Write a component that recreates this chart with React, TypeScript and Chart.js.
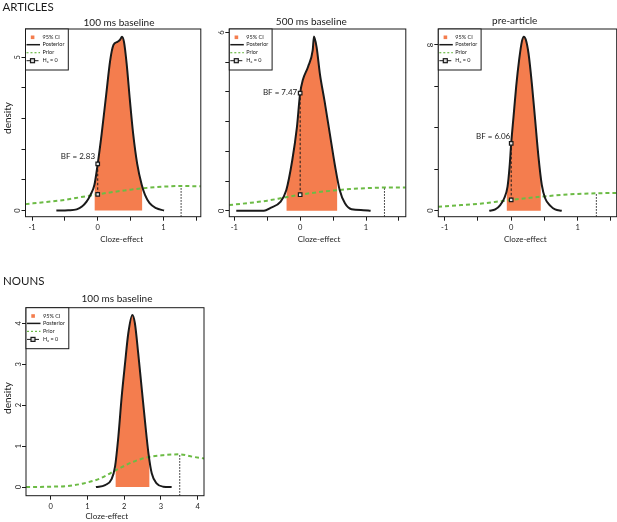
import { useEffect, useRef } from "react";
import { Chart, registerables } from "chart.js";

Chart.register(...registerables);

const FONT = "Lato, 'Open Sans', sans-serif";
const ORANGE = "#f47d4e";
const GREEN = "#6cbb45";
const INK = "#1a1a1a";

// shared ticks
const articleXTicks = [-1, -0.5, 0, 0.5, 1, 1.5];
const nounXTicks = [0, 1, 2, 3, 4];

// ARTICLES, 100 ms baseline
const art100PostX = [-0.63, -0.45, -0.32, -0.24, -0.17, -0.11, -0.05, 0, 0.06, 0.13, 0.19, 0.24, 0.3, 0.34, 0.37, 0.4, 0.44, 0.49, 0.54, 0.6, 0.67, 0.72, 0.79, 0.89, 1.01];
const art100PostY = [0, 0.01, 0.04, 0.13, 0.29, 0.51, 0.84, 1.52, 2.5, 3.8, 4.9, 5.4, 5.5, 5.57, 5.67, 5.5, 4.8, 3.6, 2.5, 1.54, 0.84, 0.51, 0.24, 0.08, 0];
const art100PriorX = [-1.1, -0.75, -0.5, -0.25, 0, 0.25, 0.5, 0.75, 1, 1.27, 1.57];
const art100PriorY = [0.21, 0.29, 0.35, 0.44, 0.53, 0.61, 0.68, 0.74, 0.78, 0.8, 0.79];
const art100Ci = [-0.05, 0.68];
const art100CiEdgeY = [0.84, 0.78];
const art100H0 = [0.53, 1.52];
const art100Mode = [1.27, 0.8];
const art100YTicks = [0, 1, 2, 3, 4, 5];
const art100YLabels = [0, 5];

// ARTICLES, 500 ms baseline
const art500PostX = [-0.97, -0.55, -0.45, -0.3, -0.21, -0.12, -0.05, 0, 0.04, 0.12, 0.19, 0.21, 0.25, 0.3, 0.37, 0.45, 0.53, 0.6, 0.68, 0.78, 0.96, 1.07];
const art500PostY = [0, 0, 0.1, 0.3, 0.7, 1.7, 2.8, 3.96, 4.4, 4.85, 5.4, 5.87, 5.5, 4.6, 3.7, 2.6, 1.5, 0.7, 0.25, 0.05, 0.02, 0];
const art500PriorX = [-1.08, -0.75, -0.5, -0.25, 0, 0.25, 0.5, 0.75, 1, 1.28, 1.6];
const art500PriorY = [0.19, 0.27, 0.34, 0.44, 0.54, 0.62, 0.68, 0.73, 0.76, 0.78, 0.78];
const art500Ci = [-0.21, 0.565];
const art500CiEdgeY = [0.7, 1.1];
const art500H0 = [0.54, 3.96];
const art500Mode = [1.28, 0.78];
const art500YTicks = [0, 1, 2, 3, 4, 5, 6];
const art500YLabels = [0, 6];

// ARTICLES, pre-article
const preArtPostX = [-0.33, -0.24, -0.165, -0.105, -0.055, -0.025, 0, 0.035, 0.075, 0.12, 0.16, 0.19, 0.22, 0.26, 0.31, 0.36, 0.41, 0.46, 0.51, 0.59, 0.66, 0.76];
const preArtPostY = [0, 0.06, 0.27, 0.6, 1.16, 2.1, 3.25, 4.54, 6.0, 7.3, 8.16, 8.4, 8.25, 7.6, 6.15, 4.38, 2.6, 1.24, 0.6, 0.23, 0.06, 0];
const preArtPriorX = [-1.1, -0.75, -0.5, -0.25, 0, 0.25, 0.5, 0.75, 1, 1.28, 1.59];
const preArtPriorY = [0.19, 0.27, 0.33, 0.42, 0.52, 0.61, 0.69, 0.76, 0.81, 0.84, 0.86];
const preArtCi = [-0.07, 0.446];
const preArtCiEdgeY = [0.9, 1.6];
const preArtH0 = [0.52, 3.25];
const preArtMode = [1.28, 0.84];
const preArtYTicks = [0, 2, 4, 6, 8];
const preArtYLabels = [0, 8];

// NOUNS, 100 ms baseline
const noun100PostX = [1.23, 1.48, 1.66, 1.75, 1.84, 1.93, 2.02, 2.11, 2.22, 2.29, 2.38, 2.48, 2.57, 2.66, 2.75, 2.88, 3.06, 3.29];
const noun100PostY = [0, 0.05, 0.2, 0.5, 1.23, 2.2, 3.0, 3.75, 4.2, 4.0, 3.27, 2.37, 1.56, 0.82, 0.33, 0.09, 0.01, 0];
const noun100PriorX = [-0.67, -0.02, 0.44, 0.89, 1.34, 1.79, 2.25, 2.7, 3.06, 3.51, 3.87, 4.17];
const noun100PriorY = [0, 0.01, 0.025, 0.09, 0.21, 0.42, 0.62, 0.74, 0.78, 0.8, 0.74, 0.7];
const noun100Ci = [1.76, 2.69];
const noun100CiEdgeY = [0.58, 0.66];
const noun100Mode = [3.51, 0.8];
const noun100YTicks = [0, 1, 2, 3, 4];
const noun100YLabels = [0, 1, 2, 3, 4];

type Panel = {
  title: string;
  titlePos: [number, number];
  xLabelPos: [number, number];
  yLabelPos?: [number, number];
  heading?: { text: string; x: number; y: number };
  canvas: [number, number, number, number];
  box: [number, number, number, number];
  xRange: [number, number];
  yRange: [number, number];
  xTicks: number[];
  yTicks: number[];
  yLabels: number[];
  postX: number[];
  postY: number[];
  priorX: number[];
  priorY: number[];
  ci: number[];
  ciEdgeY: number[];
  mode: number[];
  h0?: number[];
  bf?: string;
  bfOffset?: [number, number];
};

const panels: Panel[] = [
  {
    title: "100 ms baseline", titlePos: [119, 22.7], xLabelPos: [121.7, 239], yLabelPos: [7.5, 118],
    heading: { text: "ARTICLES", x: 2.5, y: 7 },
    canvas: [0, 0, 206, 250], box: [25.5, 29, 202, 216.7],
    xRange: [-1.1, 1.57], yRange: [-0.2, 5.92],
    xTicks: articleXTicks, yTicks: art100YTicks, yLabels: art100YLabels,
    postX: art100PostX, postY: art100PostY, priorX: art100PriorX, priorY: art100PriorY,
    ci: art100Ci, ciEdgeY: art100CiEdgeY, mode: art100Mode,
    h0: art100H0, bf: "2.83", bfOffset: [-2.7, -7.3],
  },
  {
    title: "500 ms baseline", titlePos: [311.3, 21.7], xLabelPos: [319, 239],
    canvas: [206, 0, 205, 250], box: [229.3, 29, 406.7, 216.7],
    xRange: [-1.076, 1.604], yRange: [-0.2, 6.12],
    xTicks: articleXTicks, yTicks: art500YTicks, yLabels: art500YLabels,
    postX: art500PostX, postY: art500PostY, priorX: art500PriorX, priorY: art500PriorY,
    ci: art500Ci, ciEdgeY: art500CiEdgeY, mode: art500Mode,
    h0: art500H0, bf: "7.47", bfOffset: [-3, -1],
  },
  {
    title: "pre-article", titlePos: [514.7, 21], xLabelPos: [525.3, 239],
    canvas: [411, 0, 215, 250], box: [438.3, 29, 616.7, 216.7],
    xRange: [-1.096, 1.586], yRange: [-0.29, 8.77],
    xTicks: articleXTicks, yTicks: preArtYTicks, yLabels: preArtYLabels,
    postX: preArtPostX, postY: preArtPostY, priorX: preArtPriorX, priorY: preArtPriorY,
    ci: preArtCi, ciEdgeY: preArtCiEdgeY, mode: preArtMode,
    h0: preArtH0, bf: "6.06", bfOffset: [-1, -7.4],
  },
  {
    title: "100 ms baseline", titlePos: [117, 298.3], xLabelPos: [106.8, 516.7], yLabelPos: [7.5, 398],
    heading: { text: "NOUNS", x: 3, y: 281 },
    canvas: [0, 262, 210, 260], box: [26, 307.7, 204, 495.7],
    xRange: [-0.672, 4.17], yRange: [-0.21, 4.38],
    xTicks: nounXTicks, yTicks: noun100YTicks, yLabels: noun100YLabels,
    postX: noun100PostX, postY: noun100PostY, priorX: noun100PriorX, priorY: noun100PriorY,
    ci: noun100Ci, ciEdgeY: noun100CiEdgeY, mode: noun100Mode,
  },
];

const pts = (xs: number[], ys: number[]) => xs.map((x, i) => ({ x, y: ys[i] }));

const decor = (p: Panel) => ({
  id: "decor",
  afterDatasetsDraw(chart: any) {
    const { ctx, chartArea: a, scales } = chart;
    const [ox, oy] = p.canvas;
    ctx.save();
    ctx.strokeStyle = INK;
    ctx.fillStyle = INK;
    ctx.lineWidth = 1;
    ctx.setLineDash([]);
    ctx.strokeRect(a.left, a.top, a.right - a.left, a.bottom - a.top);

    // rotated y tick labels, R style
    ctx.font = `7.5px ${FONT}`;
    ctx.textAlign = "center";
    ctx.textBaseline = "middle";
    for (const v of p.yLabels) {
      const y = scales.y.getPixelForValue(v);
      ctx.save();
      ctx.translate(a.left - 7.5, y);
      ctx.rotate(-Math.PI / 2);
      ctx.fillText(String(v), 0, 0);
      ctx.restore();
    }

    ctx.font = `10px ${FONT}`;
    ctx.fillText(p.title, p.titlePos[0] - ox, p.titlePos[1] - oy);
    ctx.font = `8px ${FONT}`;
    ctx.fillText("Cloze-effect", p.xLabelPos[0] - ox, p.xLabelPos[1] - oy);
    if (p.yLabelPos) {
      ctx.save();
      ctx.font = `10px ${FONT}`;
      ctx.translate(p.yLabelPos[0] - ox, p.yLabelPos[1] - oy);
      ctx.rotate(-Math.PI / 2);
      ctx.fillText("density", 0, 0);
      ctx.restore();
    }
    if (p.heading) {
      ctx.font = `11.5px ${FONT}`;
      ctx.textAlign = "left";
      ctx.fillText(p.heading.text, p.heading.x - ox, p.heading.y - oy);
      ctx.textAlign = "center";
    }

    if (p.bf && p.h0 && p.bfOffset) {
      const x = scales.x.getPixelForValue(0);
      const y = scales.y.getPixelForValue(p.h0[1]);
      ctx.font = `8px ${FONT}`;
      ctx.textAlign = "right";
      ctx.fillText(`BF = ${p.bf}`, x + p.bfOffset[0], y + p.bfOffset[1]);
    }

    // legend, top-left inside the box
    const lx = a.left, ly = a.top;
    ctx.fillStyle = "#fff";
    ctx.fillRect(lx, ly, 42.8, 41);
    ctx.strokeStyle = INK;
    ctx.lineWidth = 1;
    ctx.strokeRect(lx, ly, 42.8, 41);
    const rows = [8.3, 15.7, 23.7, 31.7].map((d) => ly + d);
    ctx.fillStyle = ORANGE;
    ctx.fillRect(lx + 5.3, rows[0] - 1.8, 3.6, 3.6);
    ctx.strokeStyle = INK;
    ctx.lineWidth = 1.5;
    ctx.beginPath();
    ctx.moveTo(lx + 1, rows[1]);
    ctx.lineTo(lx + 14.5, rows[1]);
    ctx.stroke();
    ctx.strokeStyle = GREEN;
    ctx.lineWidth = 1.2;
    ctx.setLineDash([2, 2]);
    ctx.beginPath();
    ctx.moveTo(lx + 1, rows[2]);
    ctx.lineTo(lx + 14.5, rows[2]);
    ctx.stroke();
    ctx.setLineDash([]);
    ctx.strokeStyle = INK;
    ctx.lineWidth = 1;
    ctx.beginPath();
    ctx.moveTo(lx + 1, rows[3]);
    ctx.lineTo(lx + 13, rows[3]);
    ctx.stroke();
    ctx.fillStyle = "#ddd";
    ctx.fillRect(lx + 5, rows[3] - 2, 4, 4);
    ctx.lineWidth = 1.2;
    ctx.strokeRect(lx + 5, rows[3] - 2, 4, 4);
    ctx.fillStyle = INK;
    ctx.font = `5.5px ${FONT}`;
    ctx.textAlign = "left";
    ["95% CI", "Posterior", "Prior", "H\u2080 = 0"].forEach((t, i) => ctx.fillText(t, lx + 17, rows[i]));
    ctx.restore();
  },
});

function PanelChart({ p }: { p: Panel }) {
  const canvasRef = useRef<HTMLCanvasElement>(null);
  const [cl, ct, cw, ch] = p.canvas;

  useEffect(() => {
    const canvas = canvasRef.current;
    if (!canvas) return;
    const [bl, bt, br, bb] = p.box;
    const wy = bl - cl;
    const pr = cl + cw - br;
    const pt = bt - ct;
    const hx = ct + ch - bb;

    const post = pts(p.postX, p.postY);
    const ciData = [
      { x: p.ci[0], y: p.ciEdgeY[0] },
      ...post.filter((d) => d.x > p.ci[0] && d.x < p.ci[1]),
      { x: p.ci[1], y: p.ciEdgeY[1] },
    ];

    const datasets: any[] = [
      {
        data: ciData, showLine: true, fill: "origin", backgroundColor: ORANGE,
        borderWidth: 0, pointRadius: 0, cubicInterpolationMode: "monotone", order: 5,
      },
      {
        data: pts(p.priorX, p.priorY), showLine: true, borderColor: GREEN, borderWidth: 2,
        borderDash: [4, 3], pointRadius: 0, cubicInterpolationMode: "monotone", order: 4,
      },
      {
        data: [{ x: p.mode[0], y: p.yRange[0] }, { x: p.mode[0], y: p.mode[1] }],
        showLine: true, borderColor: INK, borderWidth: 1, borderDash: [1.5, 1.5], pointRadius: 0, order: 4,
      },
      {
        data: post, showLine: true, borderColor: INK, borderWidth: 2, pointRadius: 0,
        cubicInterpolationMode: "monotone", order: 2,
      },
    ];
    if (p.h0) {
      datasets.push({
        data: [{ x: 0, y: p.h0[0] }, { x: 0, y: p.h0[1] }], showLine: true,
        borderColor: INK, borderWidth: 1, borderDash: [2.5, 2],
        pointStyle: "rect", pointRadius: 2.5, pointBackgroundColor: "#e6e6e6",
        pointBorderColor: INK, pointBorderWidth: 1.2, order: 1,
      });
    }

    const tickFont = { family: FONT, size: 7.5 };
    const chart = new Chart(canvas, {
      type: "scatter",
      data: { datasets },
      options: {
        responsive: false,
        animation: false,
        events: [],
        layout: { padding: { left: 0, top: pt, right: pr, bottom: 0 } },
        plugins: { legend: { display: false }, tooltip: { enabled: false } },
        scales: {
          x: {
            type: "linear",
            min: p.xRange[0],
            max: p.xRange[1],
            bounds: "data",
            afterBuildTicks: (s: any) => {
              s.ticks = p.xTicks.map((v) => ({ value: v }));
            },
            afterFit: (s: any) => {
              s.height = hx;
            },
            border: { display: false },
            grid: { drawOnChartArea: false, drawTicks: true, tickLength: 4, color: INK, lineWidth: 1 },
            ticks: {
              autoSkip: false,
              maxRotation: 0,
              padding: 2,
              color: INK,
              font: tickFont,
              callback: (v: any) => (Number.isInteger(v) ? String(v) : ""),
            },
          },
          y: {
            type: "linear",
            min: p.yRange[0],
            max: p.yRange[1],
            bounds: "data",
            afterBuildTicks: (s: any) => {
              s.ticks = p.yTicks.map((v) => ({ value: v }));
            },
            afterFit: (s: any) => {
              s.width = wy;
            },
            border: { display: false },
            grid: { drawOnChartArea: false, drawTicks: true, tickLength: 4, color: INK, lineWidth: 1 },
            ticks: { display: false },
          },
        },
      } as any,
      plugins: [decor(p)],
    });

    return () => chart.destroy();
  }, [p]);

  return (
    <canvas
      ref={canvasRef}
      width={cw}
      height={ch}
      style={{ position: "absolute", left: cl, top: ct, width: cw, height: ch }}
    />
  );
}

export default function App() {
  return (
    <div
      style={{
        position: "fixed", left: 0, top: 0, width: 617, height: 522,
        overflow: "hidden", background: "#fff",
      }}
    >
      {panels.map((p, i) => (
        <PanelChart key={i} p={p} />
      ))}
    </div>
  );
}
